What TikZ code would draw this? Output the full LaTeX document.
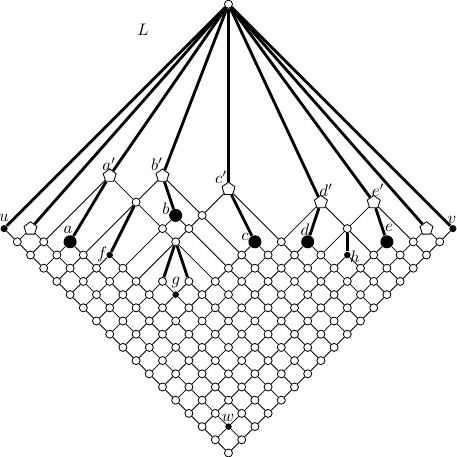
\documentclass[tikz,border=0pt]{standalone}
\usetikzlibrary{shapes.geometric}
\pgfdeclarelayer{bg}
\pgfsetlayers{bg,main}
\begin{document}
\begin{tikzpicture}[x=0.6pt,y=-0.6pt,
  wn/.style={circle,draw,fill=white,line width=0.5pt,inner sep=0pt,minimum size=4.8pt},
  pent/.style={regular polygon,regular polygon sides=5,draw,fill=white,line width=0.5pt,inner sep=0pt,minimum size=8.2pt},
  big/.style={circle,fill=black,draw=none,inner sep=0pt,minimum size=7.8pt},
  sm/.style={circle,fill=black,draw=none,inner sep=0pt,minimum size=3.9pt},
  uv/.style={circle,fill=black,draw=none,inner sep=0pt,minimum size=4.3pt},
  ln/.style={line width=0.5pt},
  tk/.style={line width=1.7pt},
  lab/.style={inner sep=0pt},
  st-1-1/.style={sm},
  st-8-4/.style={sm}
]
\useasboundingbox (0,0) rectangle (457,457);
% lower triangle of the grid
\foreach \i in {0,...,13}{\foreach \j in {0,...,13}{%
  \pgfmathtruncatemacro\s{\i+\j}%
  \ifnum\s<14
    \pgfmathsetmacro\xx{228.5+(\j-\i)*13.2}%
    \pgfmathsetmacro\yy{453-(\i+\j)*13.2}%
    \node[wn,st-\i-\j/.try] (n-\i-\j) at (\xx,\yy) {};
  \fi}}
% upper elements
\foreach \i/\j/\st in {14/0/wn,13/1/wn,12/2/wn,11/3/wn,7/7/wn,6/8/wn,5/9/wn,4/10/wn,3/11/wn,2/12/wn,1/13/wn,0/14/wn,
  15/0/wn,14/1/wn,13/2/wn,12/3/sm,7/8/wn,6/9/wn,5/10/wn,4/11/wn,3/12/sm,2/13/wn,1/14/wn,0/15/wn,
  16/0/wn,15/1/wn,14/2/big,10/6/wn,7/9/big,6/10/wn,5/11/big,2/14/big,1/15/wn,0/16/wn,
  17/0/uv,16/1/pent,11/6/wn,10/7/wn,4/13/wn,1/16/pent,0/17/uv,
  11/7/big,10/8/wn,13/6/wn,6/13/pent,4/15/pent,10/10/pent,15/6/pent,13/8/pent,17/17/wn}{%
    \pgfmathsetmacro\xx{228.5+(\j-\i)*13.2}%
    \pgfmathsetmacro\yy{453-(\i+\j)*13.2}%
    \node[\st] (n-\i-\j) at (\xx,\yy) {};
}
\begin{pgfonlayer}{bg}
\foreach \i in {0,...,12}{\foreach \j in {0,...,12}{%
  \pgfmathtruncatemacro\s{\i+\j}%
  \ifnum\s<13
    \pgfmathtruncatemacro\ii{\i+1}%
    \pgfmathtruncatemacro\jj{\j+1}%
    \draw[ln] (n-\i-\j) -- (n-\ii-\j);
    \draw[ln] (n-\i-\j) -- (n-\i-\jj);
  \fi}}
\foreach \a/\b in {14-0/13-0,13-1/12-1,13-1/13-0,12-2/11-2,12-2/12-1,11-3/10-3,11-3/11-2,
  7-7/6-7,7-7/7-6,6-8/5-8,6-8/6-7,5-9/4-9,5-9/5-8,4-10/3-10,4-10/4-9,3-11/2-11,3-11/3-10,
  2-12/1-12,2-12/2-11,1-13/0-13,1-13/1-12,0-14/0-13,
  15-0/14-0,14-1/13-1,14-1/14-0,13-2/12-2,13-2/13-1,12-3/11-3,12-3/12-2,
  7-8/6-8,7-8/7-7,6-9/5-9,6-9/6-8,5-10/4-10,5-10/5-9,4-11/3-11,4-11/4-10,3-12/2-12,3-12/3-11,
  2-13/1-13,2-13/2-12,1-14/0-14,1-14/1-13,0-15/0-14,
  16-0/15-0,15-1/14-1,15-1/15-0,14-2/13-2,14-2/14-1,
  7-9/6-9,7-9/7-8,6-10/5-10,6-10/6-9,5-11/4-11,5-11/5-10,2-14/1-14,2-14/2-13,1-15/0-15,1-15/1-14,0-16/0-15,
  17-0/16-0,16-1/15-1,16-1/16-0,11-6/10-6,10-7/10-6,1-16/0-16,1-16/1-15,0-17/0-16,
  11-7/10-7,11-7/11-6,10-8/10-7,
  15-1/15-6,13-2/13-6,13-6/15-6,13-6/13-8,13-6/11-6,11-6/11-3,10-6/10-3,10-6/7-6,10-7/7-7,
  10-8/13-8,10-8/10-10,10-8/7-8,10-10/6-10,6-13/6-10,6-13/4-13,4-13/4-11,4-13/2-13,4-13/4-15,4-15/1-15}
  {\draw[ln] (n-\a) -- (n-\b);}
\foreach \a/\b in {15-6/14-2,13-8/11-7,10-10/7-9,6-13/5-11,4-15/2-14,13-6/12-3,4-13/3-12,10-6/9-4,10-6/8-5,
  17-17/17-0,17-17/16-1,17-17/15-6,17-17/13-8,17-17/10-10,17-17/6-13,17-17/4-15,17-17/1-16,17-17/0-17}
  {\draw[tk] (n-\a) -- (n-\b);}
\end{pgfonlayer}
% labels
\node[lab] (tL) at (143,30) {$L$};
\node[lab] (tu) at (4,218) {$u$};
\node[lab] (tv) at (452,220) {$v$};
\node[lab] (ta') at (109,164) {$a'$};
\node[lab] (tb') at (157,164) {$b'$};
\node[lab] (tc') at (221,177) {$c'$};
\node[lab] (td') at (326,190) {$d'$};
\node[lab] (te') at (378,190) {$e'$};
\node[lab] (ta) at (68,230) {$a$};
\node[lab] (tb) at (166,209) {$b$};
\node[lab] (tc) at (245,237) {$c$};
\node[lab] (td) at (305,230) {$d$};
\node[lab] (te) at (389,228) {$e$};
\node[lab] (tf) at (102,254) {$f$};
\node[lab] (tg) at (176,283) {$g$};
\node[lab] (th) at (355,257) {$h$};
\node[lab] (tw) at (228,418) {$w$};
\end{tikzpicture}
\end{document}
